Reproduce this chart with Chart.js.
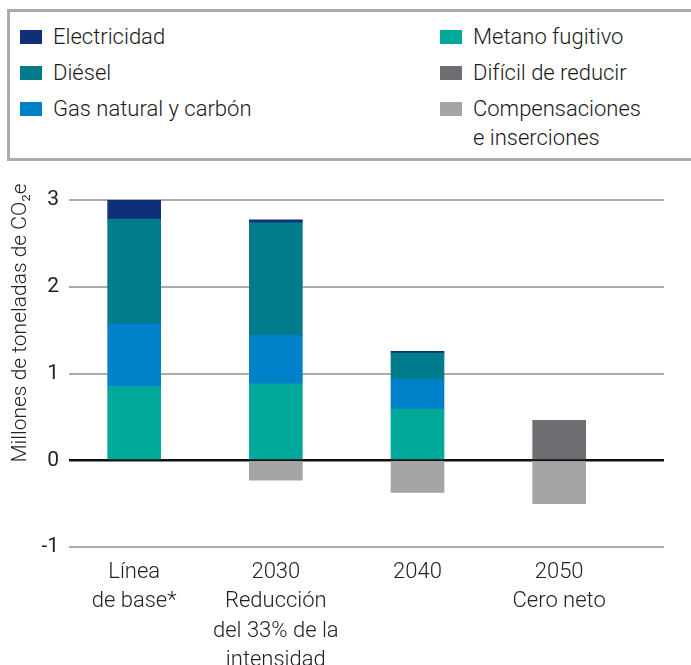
<!DOCTYPE html>
<html>
<head>
<meta charset="utf-8">
<style>
    body { margin: 0; width: 691px; height: 665px; overflow: hidden; background: #fff; font-family: Roboto, sans-serif; color: #222; }
    .legend { position: absolute; left: 7px; top: 9px; width: 700px; height: 152px; border: 3px solid #ababab; box-sizing: border-box; }
    .item { position: absolute; font-size: 22px; line-height: 29px; white-space: nowrap; font-weight: 300; color: #1a1a1a; }
    .item span.sw { position: absolute; left: -33px; top: 8px; width: 22px; height: 14px; }
    #wrap { position: absolute; left: 0; top: 165px; width: 691px; height: 500px; }
</style>
</head>
<body>
<div class="legend" id="legend"></div>
<div id="wrap"><canvas id="emisChart" width="691" height="500"></canvas></div>

<script src="https://cdn.jsdelivr.net/npm/chart.js@4.4.1/dist/chart.umd.min.js"></script>
<script>
    // categories and series (millones de toneladas de CO2e)
    var categories = [['Línea', 'de base*'], ['2030', 'Reducción', 'del 33% de la', 'intensidad'], ['2040'], ['2050', 'Cero neto']];
    var metano = [0.85, 0.88, 0.59, null];
    var gasCarbon = [0.72, 0.56, 0.345, null];
    var diesel = [1.21, 1.30, 0.30, null];
    var electricidad = [0.22, 0.03, 0.02, null];
    var dificil = [null, null, null, 0.46];
    var compensaciones = [null, -0.23, -0.37, -0.50];
    var yTicks = [-1, 0, 1, 2, 3];

    var series = [
        { label: 'Metano fugitivo', data: metano, color: '#00a99a' },
        { label: 'Gas natural y carbón', data: gasCarbon, color: '#0080c8' },
        { label: 'Diésel', data: diesel, color: '#007b8c' },
        { label: 'Electricidad', data: electricidad, color: '#0f2f78' },
        { label: 'Difícil de reducir', data: dificil, color: '#6d6e72' },
        { label: 'Compensaciones\ne inserciones', data: compensaciones, color: '#a5a5a5' }
    ];

    // legend box (two columns)
    var legendOrder = [
        ['Electricidad', 53, 36], ['Diésel', 53, 72], ['Gas natural y carbón', 53, 108],
        ['Metano fugitivo', 473, 36], ['Difícil de reducir', 473, 72], ['Compensaciones\ne inserciones', 473, 108]
    ];
    var legend = document.getElementById('legend');
    legendOrder.forEach(function(l) {
        var s = series.filter(function(x) { return x.label === l[0]; })[0];
        var div = document.createElement('div');
        div.className = 'item';
        div.style.left = (l[1] - 10) + 'px';
        div.style.top = (l[2] - 9 - 17) + 'px';
        div.innerHTML = '<span class="sw" style="background:' + s.color + '"></span>' + l[0].replace('\n', '<br>');
        legend.appendChild(div);
    });

    // rotated y-axis title drawn at a fixed spot
    var yTitle = {
        id: 'yTitle',
        afterDraw: function(chart) {
            var c = chart.ctx;
            c.save();
            c.translate(21, 158);
            c.rotate(-Math.PI / 2);
            c.fillStyle = '#222';
            c.font = '300 21px Roboto';
            c.textAlign = 'center';
            c.textBaseline = 'middle';
            c.fillText('Millones de toneladas de CO₂e', 0, 0);
            c.restore();
        }
    };

    var ctx = document.getElementById('emisChart').getContext('2d');
    new Chart(ctx, {
        type: 'bar',
        data: {
            datasets: series.map(function(s) {
                return {
                    label: s.label,
                    data: s.data.map(function(v, i) { return { x: i, y: v }; }),
                    backgroundColor: s.color,
                    barThickness: 53
                };
            })
        },
        plugins: [yTitle],
        options: {
            responsive: false,
            animation: false,
            devicePixelRatio: 1,
            layout: { padding: { top: 35, right: 27, left: 0, bottom: 0 } },
            plugins: { legend: { display: false }, tooltip: { enabled: false } },
            scales: {
                x: {
                    type: 'linear',
                    offset: false,
                    stacked: true,
                    min: -0.46,
                    max: 3.74,
                    grid: { display: false },
                    border: { display: false },
                    afterBuildTicks: function(scale) {
                        scale.ticks = categories.map(function(c, i) { return { value: i }; });
                    },
                    afterFit: function(scale) { scale.height = 118; },
                    ticks: {
                        autoSkip: false,
                        maxRotation: 0,
                        padding: 3,
                        color: '#222',
                        font: { family: 'Roboto', size: 22, weight: 300, lineHeight: 1.33 },
                        callback: function(v) { return categories[v]; }
                    }
                },
                y: {
                    stacked: true,
                    min: -1,
                    max: 3,
                    afterBuildTicks: function(scale) {
                        scale.ticks = yTicks.map(function(v) { return { value: v }; });
                    },
                    afterFit: function(scale) { scale.width = 69; },
                    border: { display: false },
                    grid: {
                        drawTicks: false,
                        color: function(c) { return c.tick && c.tick.value === 0 ? '#111' : '#ababab'; },
                        lineWidth: function(c) { return c.tick && c.tick.value === 0 ? 2.5 : 2; }
                    },
                    ticks: {
                        padding: 10,
                        color: '#222',
                        font: { family: 'Roboto', size: 21 }
                    }
                }
            }
        }
    });
</script>
</body>
</html>
